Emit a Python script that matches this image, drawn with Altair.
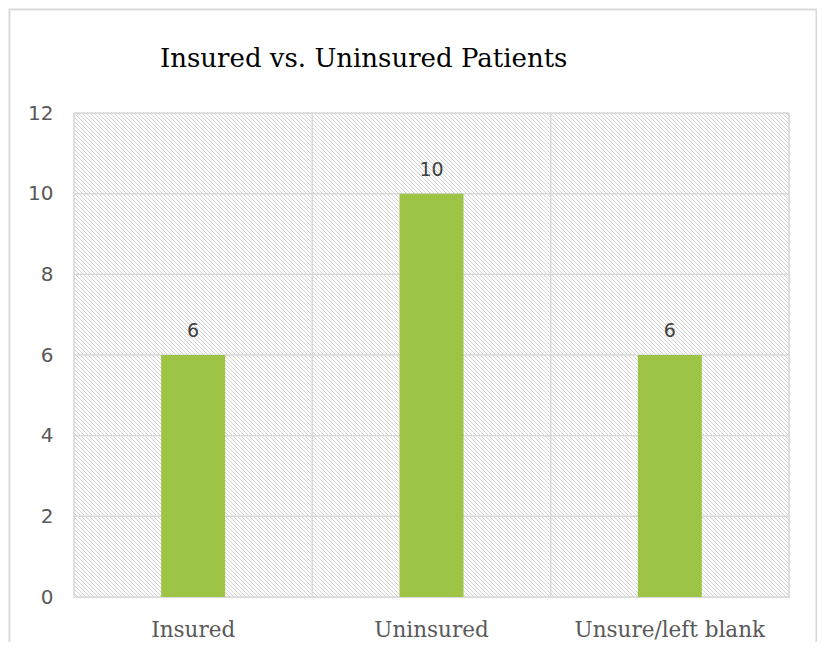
import altair as alt
import pandas as pd

# ---- data ----
categories = ["Insured", "Uninsured", "Unsure/left blank"]
counts = [6, 10, 6]
y_ticks = [0, 2, 4, 6, 8, 10, 12]
title_text = "Insured vs. Uninsured Patients"

W, H = 715, 484

df = pd.DataFrame({"category": categories, "count": counts})
grid_df = pd.DataFrame({"v": y_ticks})
cat_df = pd.DataFrame({"category": categories})
one = pd.DataFrame({"d": [0]})

GRID = "#d9d9d9"

x_axis = alt.Axis(
    title=None, labelAngle=0, domain=False, ticks=False, tickSize=0,
    grid=False, labelPadding=39, labelBaseline="alphabetic", labelLimit=0,
    labelFont="DejaVu Serif", labelFontSize=21.5, labelColor="#595959",
)
x_scale = alt.Scale(paddingInner=0, paddingOuter=0)
x_enc = alt.X("category:N", sort=categories, scale=x_scale, axis=x_axis)

y_scale = alt.Scale(domain=[0, 12], nice=False)
y_axis = alt.Axis(
    title=None, values=y_ticks, domain=False, ticks=False, tickSize=0,
    grid=False, labelPadding=21, labelFont="DejaVu Sans", labelFontSize=20,
    labelColor="#595959",
)

# outer chart frame
frame = alt.Chart(one).mark_rect(
    fill=None, stroke=GRID, strokeWidth=2
).encode(
    x=alt.value(-64.5), x2=alt.value(742.5), y=alt.value(-103.5), y2=alt.value(700)
)

# diagonal hatch of the plot area (pixel space, clipped to the plot rectangle)
hatch = (
    alt.Chart(alt.sequence(start=-H, stop=W, step=4, as_="s"))
    .transform_calculate(
        hx1="max(0, datum.s)",
        hy1="max(0, -datum.s)",
        hx2=f"min({W}, {H} + datum.s)",
        hy2=f"min({H}, {W} - datum.s)",
    )
    .mark_rule(color="#d2d2d2", strokeWidth=1)
    .encode(
        x=alt.X("hx1:Q", scale=None, axis=None),
        y=alt.Y("hy1:Q", scale=None, axis=None),
        x2="hx2:Q",
        y2="hy2:Q",
    )
)

hrules = alt.Chart(grid_df).mark_rule(color=GRID, strokeWidth=1.5).encode(
    y=alt.Y("v:Q", scale=y_scale, axis=y_axis)
)

vrules = alt.Chart(cat_df).mark_rule(color=GRID, strokeWidth=1.5).encode(
    x=alt.X("category:N", sort=categories, bandPosition=0,
            scale=x_scale, axis=x_axis)
)

right_edge = alt.Chart(one).mark_rule(color=GRID, strokeWidth=1.5).encode(
    x=alt.value(W), y=alt.value(0), y2=alt.value(H)
)

bars = alt.Chart(df).mark_bar(color="#9dc444", width=64).encode(
    x=x_enc,
    y=alt.Y("count:Q", scale=y_scale, axis=y_axis),
)

labels = alt.Chart(df).mark_text(
    font="DejaVu Sans", fontSize=19, color="#404040", baseline="alphabetic", dy=-18
).encode(
    x=x_enc,
    y=alt.Y("count:Q", scale=y_scale, axis=y_axis),
    text="count:Q",
)

title = alt.Chart(one).mark_text(
    text=title_text, align="left", baseline="alphabetic",
    font="DejaVu Serif", fontSize=26, color="#000000",
).encode(x=alt.value(86), y=alt.value(-46))

chart = alt.layer(
    frame, hatch, hrules, vrules, right_edge, bars, labels, title
).properties(
    width=W,
    height=H,
    autosize=alt.AutoSizeParams(type="none"),
    padding={"left": 66, "top": 105, "right": 28, "bottom": 45},
).configure_view(stroke=None).configure(background="#ffffff")

chart.save("out.html", embed_options={"renderer": "svg", "actions": False})
